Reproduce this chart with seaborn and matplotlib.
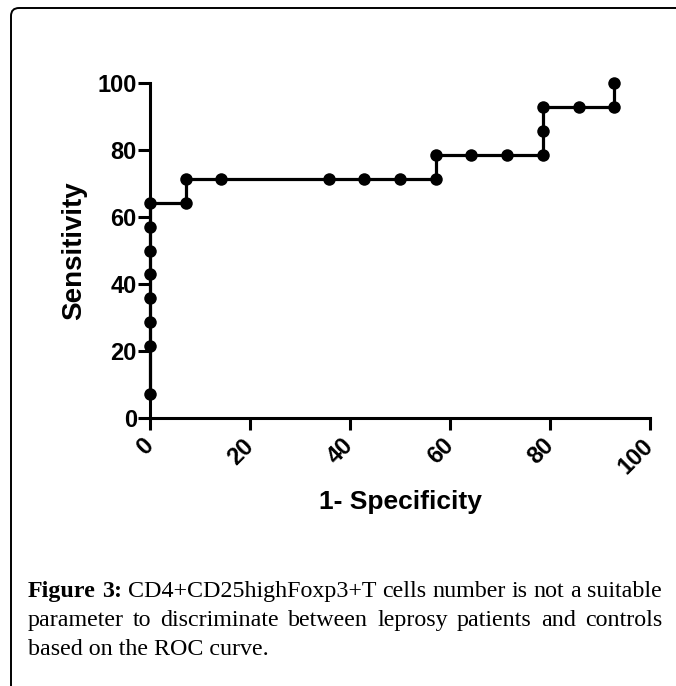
import matplotlib
matplotlib.use("Agg")
import matplotlib.pyplot as plt
from matplotlib.patches import FancyBboxPatch
from matplotlib.transforms import IdentityTransform
import seaborn as sns
import pandas as pd

# ---- data ----
one_minus_specificity = [0, 0, 0, 0, 0, 0, 0, 0,
                         7.14, 7.14, 14.29, 35.71, 42.86, 50.0, 57.14, 57.14,
                         64.29, 71.43, 78.57, 78.57, 78.57, 85.71, 92.86, 92.86]
sensitivity = [7.14, 21.43, 28.57, 35.71, 42.86, 50.0, 57.14, 64.29,
               64.29, 71.43, 71.43, 71.43, 71.43, 71.43, 71.43, 78.57,
               78.57, 78.57, 78.57, 85.71, 92.86, 92.86, 92.86, 100.0]
x_ticks = [0, 20, 40, 60, 80, 100]
y_ticks = [0, 20, 40, 60, 80, 100]
x_label = "1- Specificity"
y_label = "Sensitivity"
caption_line1 = [("Figure", "bold"), ("3:", "bold"), ("CD4+CD25highFoxp3+T", "normal"),
                 ("cells", "normal"), ("number", "normal"), ("is", "normal"),
                 ("not", "normal"), ("a", "normal"), ("suitable", "normal")]
caption_line2 = ["parameter", "to", "discriminate", "between", "leprosy",
                 "patients", "and", "controls"]
caption_line3 = "based on the ROC curve."

sns.set_style("ticks")
plt.rcParams["font.family"] = ["Liberation Sans", "DejaVu Sans"]
plt.rcParams["text.color"] = "black"
plt.rcParams["axes.labelcolor"] = "black"
plt.rcParams["xtick.color"] = "black"
plt.rcParams["ytick.color"] = "black"
plt.rcParams["xtick.labelcolor"] = "black"
plt.rcParams["ytick.labelcolor"] = "black"

W, H, DPI = 676, 686, 100
fig = plt.figure(figsize=(W / DPI, H / DPI), dpi=DPI)
fig.patch.set_facecolor("white")

# axes placed in pixel geometry of the reference
ax_left, ax_right, ax_top, ax_bottom = 150, 650, 83, 418
ax = fig.add_axes([ax_left / W, 1 - ax_bottom / H,
                   (ax_right - ax_left) / W, (ax_bottom - ax_top) / H])
ax.set_facecolor("white")

df = pd.DataFrame({"fpr": one_minus_specificity, "tpr": sensitivity})
sns.lineplot(data=df, x="fpr", y="tpr", sort=False, estimator=None,
             color="black", linewidth=2.3, marker="o", markersize=9,
             markeredgewidth=0, markerfacecolor="black", clip_on=False,
             zorder=5, ax=ax)

ax.set_xlim(0, 100)
ax.set_ylim(0, 100)
sns.despine(ax=ax)
for s in ["left", "bottom"]:
    ax.spines[s].set_linewidth(2.2)
    ax.spines[s].set_color("black")

ax.set_xticks(x_ticks)
ax.set_yticks(y_ticks)
ax.set_xticklabels([str(t) for t in x_ticks], fontsize=17, fontweight="bold",
                   color="black", rotation=45, ha="right", va="center",
                   rotation_mode="anchor")
ax.set_yticklabels([str(t) for t in y_ticks], fontsize=17, fontweight="bold",
                   color="black")
ax.tick_params(axis="both", direction="out", length=8.5, width=2.2,
               color="black", labelcolor="black")
ax.tick_params(axis="y", pad=1)
ax.tick_params(axis="x", pad=9)

ax.set_xlabel(x_label, fontsize=19, fontweight="bold", color="black")
ax.set_ylabel(y_label, fontsize=20, fontweight="bold", color="black")
ax.xaxis.set_label_coords(0.5, -(490 - ax_bottom) / (ax_bottom - ax_top))
ax.yaxis.set_label_coords(-(150 - 87) / (ax_right - ax_left), 0.5)

# ---- frame (rounded box, open to right/bottom) ----
frame = FancyBboxPatch((11, -60), 900, (H - 8) + 60,
                       boxstyle="round,pad=0,rounding_size=8",
                       transform=IdentityTransform(), linewidth=1.4,
                       edgecolor="black", facecolor="none")
fig.add_artist(frame)

# ---- justified caption ----
CAP_FS = 17.3
SERIF = ["Liberation Serif", "DejaVu Serif"]
x0, x1 = 28, 662
renderer = fig.canvas.get_renderer()


def word_width(word, weight):
    t = fig.text(0, 0, word, fontsize=CAP_FS, family=SERIF, fontweight=weight)
    w = t.get_window_extent(renderer).width
    t.remove()
    return w


def justified(words, baseline):
    widths = [word_width(w, wt) for w, wt in words]
    gap = (x1 - x0 - sum(widths)) / (len(words) - 1)
    x = x0
    for (w, wt), ww in zip(words, widths):
        fig.text(x / W, 1 - baseline / H, w, fontsize=CAP_FS, family=SERIF,
                 fontweight=wt, ha="left", va="baseline", color="black")
        x += ww + gap


justified(caption_line1, 597)
justified([(w, "normal") for w in caption_line2], 626)
fig.text(x0 / W, 1 - 655 / H, caption_line3, fontsize=CAP_FS, family=SERIF,
         ha="left", va="baseline", color="black")

fig.savefig("out.png", dpi=DPI, facecolor="white")
